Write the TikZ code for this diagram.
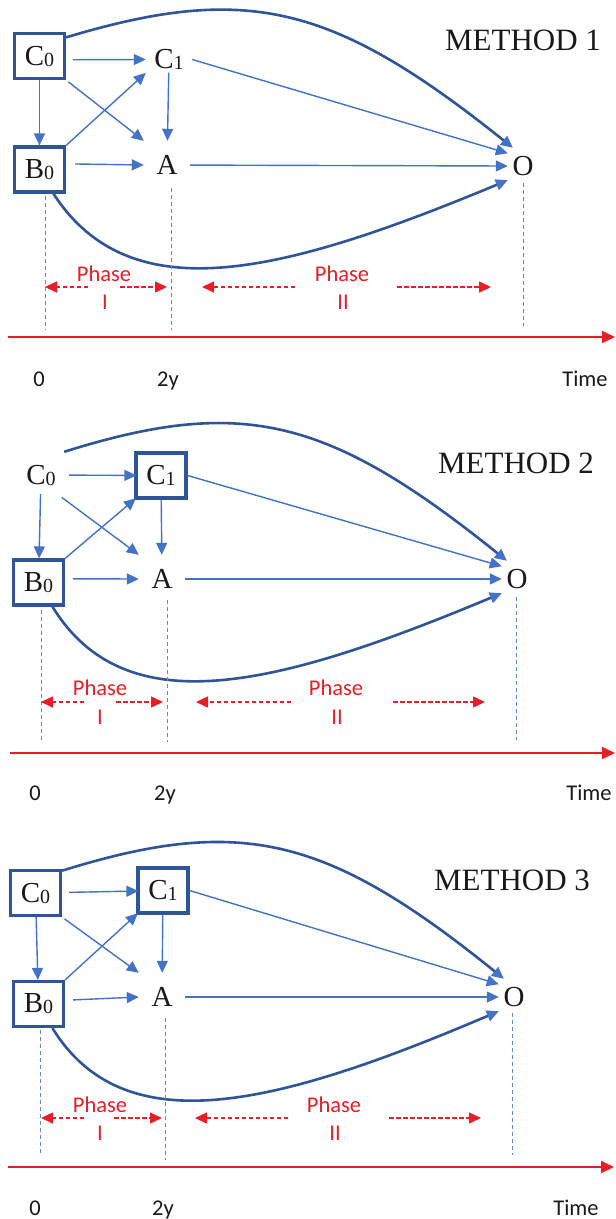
\documentclass[tikz,border=0pt]{standalone}
\usepackage{fontspec}
\setmainfont{Liberation Serif}
\newfontfamily\calfont{Carlito}
\usetikzlibrary{arrows.meta}
\definecolor{lblue}{RGB}{68,114,196}
\definecolor{dblue}{RGB}{47,85,151}
\definecolor{vblue}{RGB}{95,138,210}
\definecolor{pred}{RGB}{232,30,38}
\definecolor{ink}{RGB}{25,25,25}
\newcommand\lowdigit[1]{\raisebox{-1pt}{\fontsize{20}{20}\selectfont #1}}
\begin{document}
\begin{tikzpicture}[x=1pt,y=-1pt,
 nodefont/.style={font=\fontsize{29}{29}\selectfont, text=ink},
 boxnode/.style={nodefont, draw=dblue, line width=3.2pt, minimum width=50pt, minimum height=45pt, inner sep=0pt},
 plainnode/.style={nodefont, minimum width=46pt, minimum height=48pt, inner sep=0pt},
 onode/.style={nodefont, minimum width=30pt, minimum height=36pt, inner sep=0pt},
 conn/.style={draw=lblue, line width=1.4pt, -{Triangle[length=12pt,width=11pt]}},
 bigcurve/.style={draw=dblue, line width=2.6pt, -{Triangle[length=12pt,width=11pt,color=lblue]}},
 phasearr/.style={draw=pred, line width=1.5pt, dash pattern=on 4.5pt off 2.5pt, -{Triangle[length=12pt,width=11pt]}},
 timeline/.style={draw=pred, line width=1.8pt, -{Triangle[length=13pt,width=12pt]}},
 vdash/.style={draw=vblue, line width=1pt, dash pattern=on 4pt off 3pt},
 phasetxt/.style={font=\calfont\fontsize{22.5}{22.5}\selectfont, text=pred, inner sep=0pt, anchor=base},
 axislab/.style={font=\calfont\fontsize{22.5}{22.5}\selectfont, text=ink, inner sep=0pt, anchor=base},
 methodtxt/.style={font=\fontsize{31}{31}\selectfont, text=ink, inner sep=0pt, anchor=base}
]
\fill[white] (0,0) rectangle (616,1219);
\useasboundingbox (0,0) rectangle (616,1219);

% ===== Panel 1 =====
\node[boxnode] (c0a) at (39.5,56) {C\lowdigit{0}};
\node[plainnode] (c1a) at (169,59.5) {C\lowdigit{1}};
\node[boxnode] (b0a) at (39.5,169.5) {B\lowdigit{0}};
\node[plainnode] (aa) at (167,165) {A};
\node[onode] (oa) at (523,166) {O};
\node[methodtxt] (m1) at (523,50) {METHOD 1};
\draw[conn, shorten <=7pt] (c0a.-8) -- (c1a.west);
\draw[conn] (c0a) -- (b0a);
\draw[conn, shorten <=3pt] (c0a.south east) -- (aa.north west);
\draw[conn] (b0a.north east) -- (c1a.210);
\draw[conn, shorten <=-11pt] (c1a) -- (aa);
\draw[conn, shorten <=9pt] (b0a.12) -- (aa.west);
\draw[conn] (aa) -- (oa.west);
\draw[conn] (c1a.east) -- (oa.140);
\draw[bigcurve] (c0a.35) .. controls (247,-17) and (333,4) .. (oa.119);
\draw[bigcurve] (b0a.-60) .. controls (130,312) and (280,275) .. (oa.223);
\draw[vdash] (45,196) -- (45,330);
\draw[vdash] (171,188) -- (171,330);
\draw[vdash] (523,183) -- (523,326);
\draw[phasearr] (88,287) -- (45,287);
\draw[phasearr] (120,287) -- (167,287);
\draw[phasearr] (295,287) -- (202,287);
\draw[phasearr] (397,287) -- (491,287);
\node[phasetxt] (p1a) at (104,281) {Phase};
\node[phasetxt] (p1b) at (105,309) {I};
\node[phasetxt] (p1c) at (342,281) {Phase};
\node[phasetxt] (p1d) at (343,309) {II};
\draw[timeline] (8,337) -- (615,337);
\node[axislab] (z1) at (39,386) {0};
\node[axislab] (y1) at (168,386) {2y};
\node[axislab] (t1) at (585,386) {Time};

% ===== Panel 2 =====
\node[plainnode] (c0b) at (41,475) {C\lowdigit{0}};
\node[boxnode] (c1b) at (161,475.5) {C\lowdigit{1}};
\node[boxnode] (b0b) at (38.5,582.5) {B\lowdigit{0}};
\node[plainnode] (ab) at (162,579) {A};
\node[onode] (ob) at (517,579) {O};
\node[methodtxt] (m2) at (516,473) {METHOD 2};
\draw[conn, shorten <=5pt, shorten >=-2pt] (c0b) -- (c1b);
\draw[conn, shorten <=-5pt] (c0b) -- (b0b);
\draw[conn, shorten <=-3pt] (c0b.south east) -- (ab.north west);
\draw[conn, shorten >=-2pt] (b0b.north east) -- (c1b.south west);
\draw[conn] (c1b) -- (ab);
\draw[conn, shorten <=8pt] (b0b.8) -- (ab.west);
\draw[conn] (ab) -- (ob.west);
\draw[conn] (c1b.east) -- (ob.140);
\draw[bigcurve] (c0b.45) .. controls (242,396) and (328,417) .. (ob.119);
\draw[bigcurve] (b0b.-60) .. controls (125,725) and (275,688) .. (ob.223);
\draw[vdash] (41,610) -- (41,740);
\draw[vdash] (167,600) -- (167,742);
\draw[vdash] (516,597) -- (516,740);
\draw[phasearr] (84,702) -- (41,702);
\draw[phasearr] (116,702) -- (163,702);
\draw[phasearr] (291,702) -- (196,702);
\draw[phasearr] (393,702) -- (485,702);
\node[phasetxt] (p2a) at (100,695) {Phase};
\node[phasetxt] (p2b) at (100,724) {I};
\node[phasetxt] (p2c) at (336,695) {Phase};
\node[phasetxt] (p2d) at (337,724) {II};
\draw[timeline] (10,753) -- (615,753);
\node[axislab] (z2) at (35,800) {0};
\node[axislab] (y2) at (165,800) {2y};
\node[axislab] (t2) at (589,800) {Time};

% ===== Panel 3 =====
\node[boxnode] (c0c) at (35.5,893) {C\lowdigit{0}};
\node[boxnode] (c1c) at (163,890.5) {C\lowdigit{1}};
\node[boxnode] (b0c) at (38.5,1004) {B\lowdigit{0}};
\node[plainnode] (ac) at (162,997) {A};
\node[onode] (oc) at (514,997) {O};
\node[methodtxt] (m3) at (512,890) {METHOD 3};
\draw[conn, shorten <=7pt, shorten >=-2pt] (c0c) -- (c1c);
\draw[conn] (c0c) -- (b0c);
\draw[conn, shorten <=3pt] (c0c.south east) -- (ac.north west);
\draw[conn, shorten >=-2pt] (b0c.north east) -- (c1c.south west);
\draw[conn] (c1c) -- (ac);
\draw[conn, shorten <=8pt] (b0c.8) -- (ac.west);
\draw[conn] (ac) -- (oc.west);
\draw[conn] (c1c.east) -- (oc.140);
\draw[bigcurve] (c0c.40) .. controls (241,815) and (327,836) .. (oc.119);
\draw[bigcurve] (b0c.-60) .. controls (124,1144) and (274,1107) .. (oc.223);
\draw[vdash] (40,1030) -- (40,1155);
\draw[vdash] (165,1018) -- (165,1160);
\draw[vdash] (512,1013) -- (512,1155);
\draw[phasearr] (84,1118) -- (41,1118);
\draw[phasearr] (114,1118) -- (162,1118);
\draw[phasearr] (288,1118) -- (195,1118);
\draw[phasearr] (389,1118) -- (481,1118);
\node[phasetxt] (p3a) at (100,1112) {Phase};
\node[phasetxt] (p3b) at (100,1140) {I};
\node[phasetxt] (p3c) at (334,1112) {Phase};
\node[phasetxt] (p3d) at (335,1140) {II};
\draw[timeline] (8,1167) -- (614,1167);
\node[axislab] (z3) at (35,1215) {0};
\node[axislab] (y3) at (163,1215) {2y};
\node[axislab] (t3) at (576,1215) {Time};
\end{tikzpicture}
\end{document}
